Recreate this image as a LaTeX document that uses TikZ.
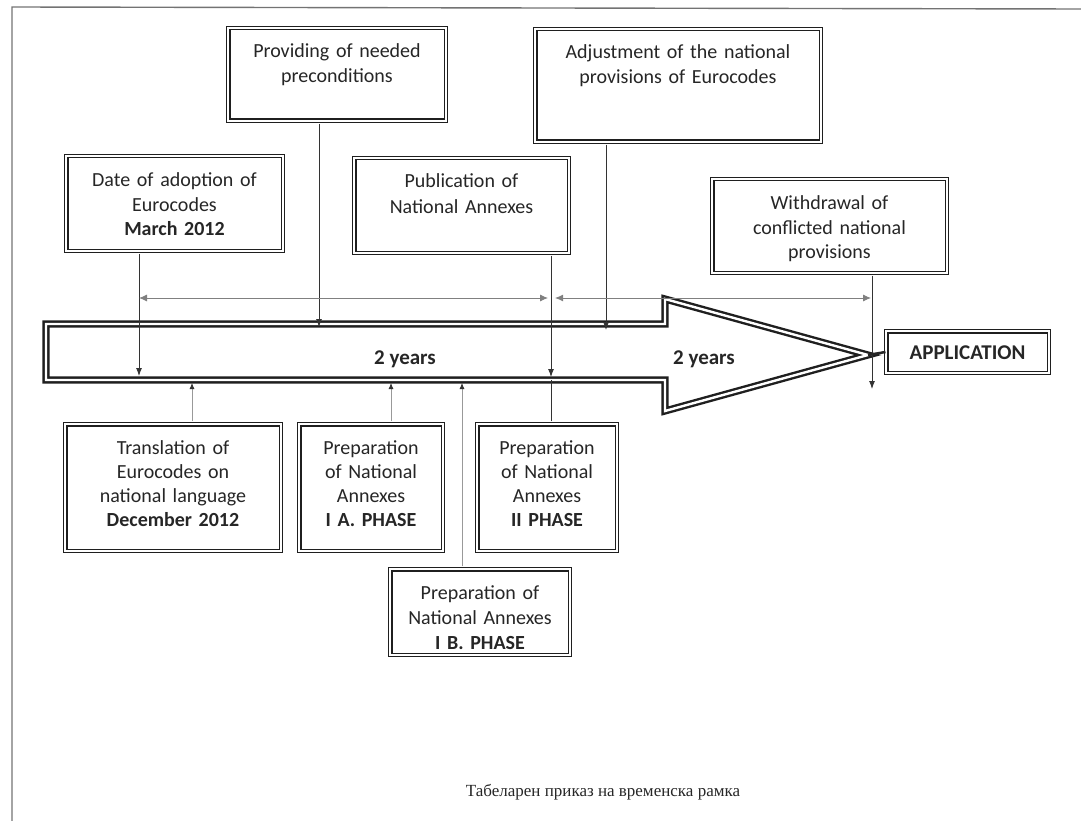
\documentclass[tikz,border=0pt]{standalone}
\usepackage{fontspec}
\newfontfamily\calfont{Carlito}
\newfontfamily\capfont{Liberation Serif}
\usetikzlibrary{arrows.meta}
\begin{document}
\begin{tikzpicture}[x=1pt,y=-1pt,
  bx/.style={draw=black!88, line width=1.5pt, double=white, double distance=1.6pt, fill=white,
    inner sep=0pt, align=center, anchor=base, text=black!85,
    font=\calfont\fontsize{20}{25}\selectfont, text height=29.8pt},
  tallbx/.style={font=\calfont\fontsize{20}{24}\selectfont},
  conn/.style={draw=black!80, line width=0.9pt, shorten <=2pt, -{Latex[length=8pt,width=6pt]}},
  plainconn/.style={draw=black!80, line width=0.9pt, shorten <=2pt},
  lconn/.style={draw=black!40, line width=0.8pt, shorten <=2pt, -{Latex[length=6pt,width=5pt,color=black!80]}},
  dim/.style={draw=black!50, line width=0.9pt, {Latex[length=8pt,width=7pt]}-{Latex[length=8pt,width=7pt]}},
  yrs/.style={font=\calfont\bfseries\fontsize{21}{25}\selectfont, text=black!85, anchor=base, inner sep=0pt},
  bigarrow/.style={draw=black!88, line width=2.4pt, double=white, double distance=2.4pt, line join=miter, miter limit=20, fill=white},
  frame/.style={draw=black!55, line width=1.4pt}
]
\useasboundingbox (0,0) rectangle (1081,821);
% page frame
\draw[frame] (1081,9) -- (12,7) -- (12,821);
% big arrow
\draw[bigarrow] (46,324) -- (665,324) -- (665,299) -- (868,355) -- (665,411) -- (665,380) -- (46,380) -- cycle;
\node[yrs] (y1) at (405,364) {2 years};
\node[yrs] (y2) at (704,364) {2 years};
% boxes
\node[bx, text width=217.6pt, text depth=62.8pt] (prov) at (337,58) {Providing of needed\\preconditions};
\node[bx, text width=216.6pt, text depth=64.8pt] (date) at (174.5,186) {Date of adoption of\\Eurocodes\\\textbf{March 2012}};
\node[bx, text width=214.6pt, text depth=64.8pt] (pub) at (461.5,188) {Publication of\\National Annexes};
\node[bx, text width=285.6pt, text depth=82.8pt] (adj) at (678,59) {Adjustment of the national\\provisions of Eurocodes};
\node[bx, text width=234.6pt, text depth=63.8pt] (wd) at (829.5,209) {Withdrawal of\\conflicted national\\provisions};
\node[bx, tallbx, text width=215.6pt, text depth=96.8pt] (tr) at (173,454) {Translation of\\Eurocodes on\\national language\\\textbf{December 2012}};
\node[bx, tallbx, text width=143.6pt, text depth=96.8pt] (ia) at (371,454) {Preparation\\of National\\Annexes\\\textbf{I A. PHASE}};
\node[bx, tallbx, text width=139.6pt, text depth=96.8pt] (ii) at (547,454) {Preparation\\of National\\Annexes\\\textbf{II PHASE}};
\node[bx, text width=179.6pt, text depth=55.8pt] (ib) at (480,599) {Preparation of\\National Annexes\\\textbf{I B. PHASE}};
\node[bx, font=\calfont\bfseries\fontsize{21}{25}\selectfont, text width=162.6pt, text height=27.8pt, text depth=13.8pt] (app) at (967.5,359) {APPLICATION};
% coordinates on the arrow
\coordinate (cDate) at (139,376);
\coordinate (cProv) at (319,327);
\coordinate (cPub) at (551,377);
\coordinate (cAdj) at (606,330);
\coordinate (cWd) at (872,389);
\coordinate (b1) at (192,383);
\coordinate (b2) at (391,383);
\coordinate (b3) at (462,383);
\coordinate (b4) at (551,380);
\coordinate (d1) at (139,298);
\coordinate (d2) at (548,298);
\coordinate (d3) at (555,298);
\coordinate (d4) at (871,298);
\coordinate (tip) at (868,355);
% connectors from the top boxes
\draw[conn] (cDate |- date.south) -- (cDate);
\draw[conn] (cProv |- prov.south) -- (cProv);
\draw[conn] (cPub |- pub.south) -- (cPub);
\draw[conn] (cAdj |- adj.south) -- (cAdj);
\draw[conn] (cWd |- wd.south) -- (cWd);
% time spans
\draw[dim] (d1) -- (d2);
\draw[dim] (d3) -- (d4);
% connectors from the bottom boxes
\draw[lconn] (b1 |- tr.north) -- (b1);
\draw[lconn] (b2 |- ia.north) -- (b2);
\draw[lconn] (b3 |- ib.north) -- (b3);
\draw[plainconn] (b4 |- ii.north) -- (b4);
% link to application
\draw[draw=black!85, line width=2.5pt] (tip) -- (app.west);
% caption
\node[font=\capfont\fontsize{17}{20}\selectfont, text=black!85, anchor=base, inner sep=0pt] (cap) at (603,796) {Табеларен приказ на временска рамка};
\end{tikzpicture}
\end{document}
